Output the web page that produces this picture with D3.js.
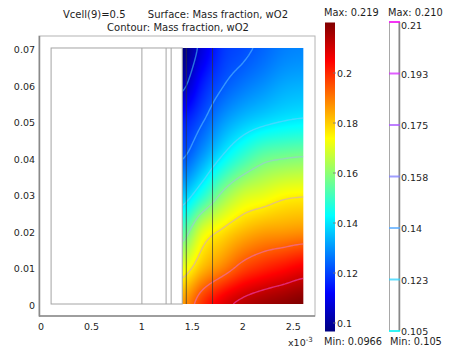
<!DOCTYPE html>
<html>
<head>
<meta charset="utf-8">
<script src="https://cdn.jsdelivr.net/npm/d3@7"></script>
<style>
  html, body { margin: 0; padding: 0; background: #fff; }
  svg text { font-family: "DejaVu Sans", Verdana, sans-serif; fill: #1e1e1e; }
</style>
</head>
<body>
<svg id="chart" width="457" height="351"></svg>
<script>
// ---- data -------------------------------------------------------------
// x in units of 1e-3 m, y in m
const xTicks = [0, 0.5, 1, 1.5, 2, 2.5];
const xTickLabels = ["0", "0.5", "1", "1.5", "2", "2.5"];
const yTicks = [0, 0.01, 0.02, 0.03, 0.04, 0.05, 0.06, 0.07];
const yTickLabels = ["0", "0.01", "0.02", "0.03", "0.04", "0.05", "0.06", "0.07"];

// subdomain geometry
const domainX = [0.1, 2.6];
const domainY = [0, 0.07];
const innerBoundaries = [1.0, 1.24, 1.29];
const electrodeLines = [1.44, 1.70];

// sampled mass fraction wO2 on the cathode region (rows top -> bottom)
const sampleX = [1.4, 1.6, 1.8, 2.0, 2.2, 2.4, 2.6];
const sampleY = [0.07, 0.06, 0.05, 0.04, 0.03, 0.02, 0.01, 0.0];
const wO2 = [
  [0.0966, 0.108, 0.118, 0.121, 0.124, 0.127, 0.128],
  [0.103, 0.115, 0.122, 0.126, 0.129, 0.132, 0.133],
  [0.115, 0.122, 0.130, 0.135, 0.138, 0.140, 0.141],
  [0.122, 0.131, 0.141, 0.149, 0.155, 0.157, 0.158],
  [0.135, 0.146, 0.159, 0.167, 0.170, 0.173, 0.174],
  [0.152, 0.169, 0.176, 0.181, 0.184, 0.185, 0.186],
  [0.170, 0.181, 0.188, 0.195, 0.199, 0.202, 0.205],
  [0.185, 0.198, 0.207, 0.212, 0.215, 0.217, 0.219]
];
const surfaceMin = 0.0966, surfaceMax = 0.219;
const colorbarTicks = [0.1, 0.12, 0.14, 0.16, 0.18, 0.2];
const colorbarTickLabels = ["0.1", "0.12", "0.14", "0.16", "0.18", "0.2"];

const contourLevels = [0.105, 0.1225, 0.14, 0.1575, 0.175, 0.1925, 0.21];
const contourLabels = ["0.105", "0.123", "0.14", "0.158", "0.175", "0.193", "0.21"];
const contourMin = 0.105, contourMax = 0.21;

// ---- colour maps --------------------------------------------------------
const clamp01 = v => Math.max(0, Math.min(1, v));
function jet(t) {
  t = clamp01(t);
  const r = clamp01(1.5 - Math.abs(4 * t - 3));
  const g = clamp01(1.5 - Math.abs(4 * t - 2));
  const b = clamp01(1.5 - Math.abs(4 * t - 1));
  return [r * 255, g * 255, b * 255];
}
function cool(t) {
  t = clamp01(t);
  return d3.rgb(255 * t, 255 * (1 - t), 255).formatHex();
}
const jetCss = t => { const c = jet(t); return d3.rgb(c[0], c[1], c[2]).formatHex(); };

// ---- scales ------------------------------------------------------------
const svg = d3.select("#chart");
const x = d3.scaleLinear().domain([-0.0198, 2.7157]).range([39, 315]);
const y = d3.scaleLinear().domain([-0.00328, 0.07328]).range([316, 36]);
const tSurf = d3.scaleLinear().domain([surfaceMin, surfaceMax]).range([0, 1]);
const tCont = d3.scaleLinear().domain([contourMin, contourMax]).range([0, 1]);

// ---- field sampling (Catmull-Rom between samples) -----------------------
function cubic(p0, p1, p2, p3, t) {
  return 0.5 * (2 * p1 + (-p0 + p2) * t + (2 * p0 - 5 * p1 + 4 * p2 - p3) * t * t +
    (-p0 + 3 * p1 - 3 * p2 + p3) * t * t * t);
}
const nxs = sampleX.length, nys = sampleY.length;
function at(i, j) {
  i = Math.max(0, Math.min(nxs - 1, i));
  j = Math.max(0, Math.min(nys - 1, j));
  return wO2[j][i];
}
function field(u, v) { // u, v fractional sample indices
  const i = Math.min(nxs - 2, Math.floor(u)), j = Math.min(nys - 2, Math.floor(v));
  const fu = u - i, fv = v - j;
  const rows = [];
  for (let k = -1; k <= 2; k++) {
    rows.push(cubic(at(i - 1, j + k), at(i, j + k), at(i + 1, j + k), at(i + 2, j + k), fu));
  }
  return cubic(rows[0], rows[1], rows[2], rows[3], fv);
}

// ---- title -------------------------------------------------------------
svg.append("text").attr("x", 63).attr("y", 18).attr("font-size", 10).text("Vcell(9)=0.5");
svg.append("text").attr("x", 288).attr("y", 18).attr("font-size", 10).attr("text-anchor", "end")
  .text("Surface: Mass fraction, wO2");
svg.append("text").attr("x", 178).attr("y", 31).attr("font-size", 10).attr("text-anchor", "middle")
  .text("Contour: Mass fraction, wO2");

// ---- axes frame ----------------------------------------------------------
svg.append("rect").attr("x", x.range()[0]).attr("y", y.range()[1])
  .attr("width", x.range()[1] - x.range()[0]).attr("height", y.range()[0] - y.range()[1])
  .attr("fill", "#fff").attr("stroke", "#b4b4b4").attr("stroke-width", 1);
svg.append("line").attr("x1", 39.5).attr("x2", 39.5).attr("y1", 36).attr("y2", 316.5)
  .attr("stroke", "#8a8a8a").attr("stroke-width", 1.5);
svg.append("line").attr("x1", 39).attr("x2", 315).attr("y1", 316).attr("y2", 316)
  .attr("stroke", "#8a8a8a").attr("stroke-width", 1.5);

// tick labels
svg.append("g").selectAll("text").data(xTicks).join("text")
  .attr("x", d => x(d)).attr("y", 329.5).attr("font-size", 9.5).attr("text-anchor", "middle")
  .text((d, i) => xTickLabels[i]);
svg.append("g").selectAll("text").data(yTicks).join("text")
  .attr("x", 35).attr("y", d => y(d) + 5).attr("font-size", 9.5).attr("text-anchor", "end")
  .text((d, i) => yTickLabels[i]);
const mult = svg.append("text").attr("x", 288).attr("y", 346).attr("font-size", 9.5);
mult.append("tspan").text("x10");
mult.append("tspan").attr("dy", -4).attr("font-size", 7).text("-3");

// ---- surface -------------------------------------------------------------
const sx0 = x(sampleX[0]), sx1 = x(sampleX[nxs - 1]);
const sy0 = y(sampleY[0]), sy1 = y(sampleY[nys - 1]);
const W = Math.round(sx1 - sx0), H = Math.round(sy1 - sy0);
const canvas = document.createElement("canvas");
canvas.width = W; canvas.height = H;
const ctx = canvas.getContext("2d");
const img = ctx.createImageData(W, H);
for (let py = 0; py < H; py++) {
  const v = (py + 0.5) / H * (nys - 1);
  for (let px = 0; px < W; px++) {
    const u = (px + 0.5) / W * (nxs - 1);
    const c = jet(tSurf(field(u, v)));
    const k = (py * W + px) * 4;
    img.data[k] = c[0]; img.data[k + 1] = c[1]; img.data[k + 2] = c[2]; img.data[k + 3] = 255;
  }
}
ctx.putImageData(img, 0, 0);
svg.append("image").attr("x", sx0).attr("y", sy0).attr("width", sx1 - sx0).attr("height", sy1 - sy0)
  .attr("preserveAspectRatio", "none").attr("href", canvas.toDataURL());

// ---- contours ------------------------------------------------------------
const CN = 61, CM = 141;
const cvals = new Array(CN * CM);
for (let j = 0; j < CM; j++) for (let i = 0; i < CN; i++) {
  cvals[j * CN + i] = field(i / (CN - 1) * (nxs - 1), j / (CM - 1) * (nys - 1));
}
const gx = c => sampleX[0] + (c - 0.5) / (CN - 1) * (sampleX[nxs - 1] - sampleX[0]);
const gy = c => sampleY[0] + (c - 0.5) / (CM - 1) * (sampleY[nys - 1] - sampleY[0]);
function isolinePath(mp) {
  let d = "";
  for (const poly of mp.coordinates) for (const ring of poly) {
    let pen = false;
    for (const [cx, cy] of ring) {
      if (cx <= 0 || cx >= CN || cy <= 0 || cy >= CM) { pen = false; continue; }
      d += (pen ? "L" : "M") + x(gx(cx)).toFixed(2) + "," + y(gy(cy)).toFixed(2);
      pen = true;
    }
  }
  return d;
}
const iso = d3.contours().size([CN, CM]).thresholds(contourLevels)(cvals);
svg.append("clipPath").attr("id", "cathode").append("rect")
  .attr("x", sx0).attr("y", sy0).attr("width", sx1 - sx0).attr("height", sy1 - sy0);
svg.append("g").attr("clip-path", "url(#cathode)").selectAll("path").data(iso).join("path")
  .attr("d", isolinePath).attr("fill", "none")
  .attr("stroke", d => d3.interpolateRgb(cool(tCont(d.value)), "#ffffff")(0.35))
  .attr("stroke-opacity", 0.45).attr("stroke-width", 1.4);

// ---- geometry boundaries ---------------------------------------------------
const geo = svg.append("g").attr("fill", "none");
geo.append("rect").attr("x", x(domainX[0])).attr("y", y(domainY[1]))
  .attr("width", x(sampleX[0]) - x(domainX[0])).attr("height", y(domainY[0]) - y(domainY[1]))
  .attr("stroke", "#a4a4a4").attr("stroke-width", 1);
geo.selectAll("line.inner").data(innerBoundaries).join("line").attr("class", "inner")
  .attr("x1", d => x(d)).attr("x2", d => x(d)).attr("y1", y(domainY[0])).attr("y2", y(domainY[1]))
  .attr("stroke", "#a4a4a4").attr("stroke-width", 1);
geo.selectAll("line.elec").data(electrodeLines).join("line").attr("class", "elec")
  .attr("x1", d => x(d)).attr("x2", d => x(d)).attr("y1", y(domainY[0])).attr("y2", y(domainY[1]))
  .attr("stroke", "#333").attr("stroke-opacity", 0.7).attr("stroke-width", 1);

// ---- surface colour bar -------------------------------------------------
const cb = d3.scaleLinear().domain([0.1, 0.2]).range([323, 73]);
const grad = svg.append("defs").append("linearGradient").attr("id", "jetGrad")
  .attr("x1", 0).attr("y1", 1).attr("x2", 0).attr("y2", 0);
d3.range(0, 1.0001, 0.125).forEach(t => grad.append("stop").attr("offset", t).attr("stop-color", jetCss(t)));
svg.append("rect").attr("x", 325).attr("y", cb(surfaceMax) - 3).attr("width", 10)
  .attr("height", cb(surfaceMin) - cb(surfaceMax) + 3).attr("fill", "url(#jetGrad)");
svg.append("g").selectAll("line").data(colorbarTicks).join("line")
  .attr("x1", 333).attr("x2", 336).attr("y1", d => cb(d)).attr("y2", d => cb(d))
  .attr("stroke", "#777").attr("stroke-width", 0.8);
svg.append("g").selectAll("text").data(colorbarTicks).join("text")
  .attr("x", 337).attr("y", d => cb(d) + 4).attr("font-size", 9.5)
  .text((d, i) => colorbarTickLabels[i]);
svg.append("text").attr("x", 324).attr("y", 16).attr("font-size", 9.8).text("Max: " + surfaceMax.toFixed(3));
svg.append("text").attr("x", 324).attr("y", 345).attr("font-size", 9.8).text("Min: " + surfaceMin.toFixed(4));

// ---- contour legend -------------------------------------------------------
const cl = d3.scaleLinear().domain([contourMin, contourMax]).range([331, 22]);
svg.append("rect").attr("x", 389.5).attr("y", 22).attr("width", 9.5).attr("height", 309)
  .attr("fill", "#fff").attr("stroke", "#a8a8a8").attr("stroke-width", 1);
svg.append("line").attr("x1", 399.5).attr("x2", 399.5).attr("y1", 22).attr("y2", 331)
  .attr("stroke", "#888").attr("stroke-width", 1.5);
svg.append("g").selectAll("line").data(contourLevels).join("line")
  .attr("x1", 389).attr("x2", 400).attr("y1", d => cl(d)).attr("y2", d => cl(d))
  .attr("stroke", d => cool(tCont(d))).attr("stroke-width", 2).attr("stroke-opacity", 0.75);
svg.append("g").selectAll("text").data(contourLevels).join("text")
  .attr("x", 401).attr("y", d => Math.max(cl(d) + 4, 29)).attr("font-size", 9.5)
  .text((d, i) => contourLabels[i]);
svg.append("text").attr("x", 388).attr("y", 16).attr("font-size", 9.8).text("Max: " + contourMax.toFixed(3));
svg.append("text").attr("x", 390).attr("y", 345).attr("font-size", 9.8).text("Min: " + contourMin.toFixed(3));
</script>
</body>
</html>
